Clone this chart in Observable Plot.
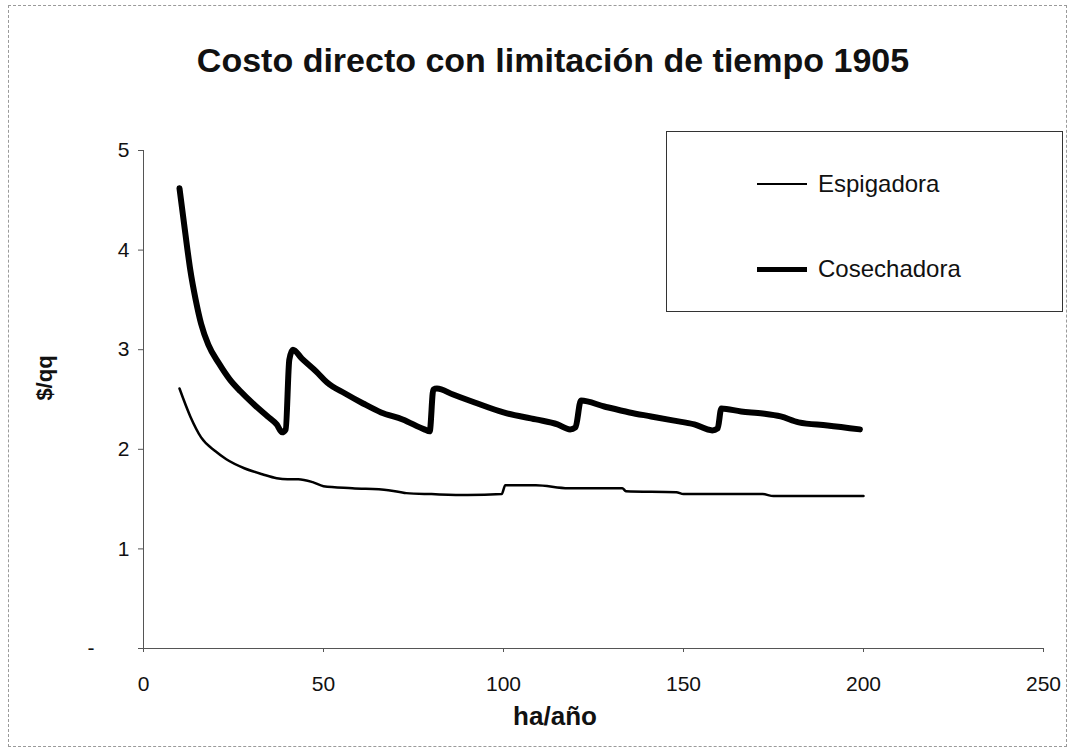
<!DOCTYPE html>
<html>
<head>
<meta charset="utf-8">
<script src="https://cdn.jsdelivr.net/npm/d3@7"></script>
<script src="https://cdn.jsdelivr.net/npm/@observablehq/plot@0.6"></script>
<style>
  html, body { margin: 0; padding: 0; background: #fff; }
  #wrap { position: relative; width: 1073px; height: 753px; font-family: "Liberation Sans", Arial, sans-serif; color: #111; }
  #border { position: absolute; left: 8px; top: 5px; width: 1059px; height: 742px; border: 1px dashed #9a9a9a; box-sizing: border-box; }
  #title { position: absolute; left: 553px; top: 60px; transform: translate(-50%, -50%); font-weight: bold; font-size: 34px; white-space: nowrap; }
  #ylab { position: absolute; left: 45px; top: 378px; transform: translate(-50%, -50%) rotate(-90deg); font-weight: bold; font-size: 22px; white-space: nowrap; }
  #xlab { position: absolute; left: 555px; top: 716px; transform: translate(-50%, -50%); font-weight: bold; font-size: 26px; white-space: nowrap; }
  #legend { position: absolute; left: 666px; top: 131px; width: 397px; height: 181px; border: 1px solid #333; box-sizing: border-box; background: #fff; }
  .lg { position: absolute; left: 90px; display: flex; align-items: center; font-size: 24px; transform: translateY(-50%); }
  .lg span.sw { display: inline-block; width: 50px; background: #000; margin-right: 11px; }
  svg { position: absolute; left: 0; top: 0; }
</style>
</head>
<body>
<div id="wrap">
  <div id="chart"></div>
  <div id="border"></div>
  <div id="title">Costo directo con limitación de tiempo 1905</div>
  <div id="ylab">$/qq</div>
  <div id="xlab">ha/año</div>
  <div id="legend"></div>
</div>
<script>
const seriesNames = ["Espigadora", "Cosechadora"];
const yTicks = [0, 1, 2, 3, 4, 5];
const xTicks = [0, 50, 100, 150, 200, 250];

const espigadoraX = [10, 13, 16, 20, 23, 28, 33, 37, 40, 43, 47, 50, 58, 68, 73, 80, 90, 99.5, 100.5, 105, 109, 118, 125, 133, 134, 148, 150, 160, 172, 175, 185, 200];
const espigadoraY = [2.61, 2.33, 2.12, 1.98, 1.90, 1.81, 1.75, 1.71, 1.70, 1.70, 1.67, 1.63, 1.61, 1.59, 1.56, 1.55, 1.54, 1.55, 1.64, 1.64, 1.64, 1.61, 1.61, 1.61, 1.58, 1.57, 1.55, 1.55, 1.55, 1.53, 1.53, 1.53];

const cosechadoraX = [10, 11.5, 13, 14.5, 16, 18, 21, 24, 27, 31, 34.5, 37, 38.5, 39.5, 40.5, 41.5, 44, 48, 51, 56, 61, 66, 72, 78, 79.5, 80.5, 81.5, 86, 92, 100, 109, 115, 118.5, 120, 121.5, 128, 135, 141, 147, 153, 158, 159.5, 160.5, 166, 172, 177, 182, 190, 199];
const cosechadoraY = [4.62, 4.2, 3.80, 3.5, 3.26, 3.05, 2.86, 2.70, 2.58, 2.44, 2.33, 2.25, 2.17, 2.20, 2.90, 3.00, 2.91, 2.78, 2.67, 2.56, 2.46, 2.37, 2.30, 2.20, 2.18, 2.60, 2.61, 2.55, 2.47, 2.37, 2.30, 2.25, 2.20, 2.22, 2.49, 2.43, 2.37, 2.33, 2.29, 2.25, 2.19, 2.21, 2.41, 2.38, 2.36, 2.33, 2.27, 2.24, 2.20];

const widths = {Espigadora: 2.5, Cosechadora: 6};

const data = [
  ...espigadoraX.map((x, i) => ({x, y: espigadoraY[i], s: seriesNames[0]})),
  ...cosechadoraX.map((x, i) => ({x, y: cosechadoraY[i], s: seriesNames[1]}))
];

const plot = Plot.plot({
  width: 1073,
  height: 753,
  marginLeft: 143,
  marginRight: 30,
  marginTop: 150,
  marginBottom: 105,
  style: {fontFamily: '"Liberation Sans", Arial, sans-serif', fontSize: "21px", color: "#111", background: "transparent"},
  x: {domain: [0, 250], ticks: xTicks},
  y: {domain: [0, 5], ticks: yTicks},
  marks: [
    Plot.ruleX([0], {stroke: "#555", strokeWidth: 1}),
    Plot.ruleY([0], {stroke: "#555", strokeWidth: 1}),
    Plot.axisX({ticks: xTicks, tickSize: 4, tickPadding: 24, label: null, tickFormat: d => String(d), stroke: "#555"}),
    Plot.axisY({ticks: yTicks, tickSize: 5, tickPadding: 9, label: null, tickFormat: d => d === 0 ? "-\u2007\u2007\u2007" : String(d), stroke: "#555"}),
    Plot.line(data.filter(d => d.s === "Espigadora"), {x: "x", y: "y", stroke: "#000", strokeWidth: widths.Espigadora, curve: "monotone-x", strokeLinejoin: "round", strokeLinecap: "round"}),
    Plot.line(data.filter(d => d.s === "Cosechadora"), {x: "x", y: "y", stroke: "#000", strokeWidth: widths.Cosechadora, curve: "monotone-x", strokeLinejoin: "round", strokeLinecap: "round"})
  ]
});
document.getElementById("chart").appendChild(plot);

const legend = document.getElementById("legend");
seriesNames.forEach((name, i) => {
  const row = document.createElement("div");
  row.className = "lg";
  row.style.top = (i === 0 ? 52 : 137) + "px";
  const sw = document.createElement("span");
  sw.className = "sw";
  sw.style.height = (i === 0 ? 2.5 : 5) + "px";
  row.appendChild(sw);
  const t = document.createElement("span");
  t.textContent = name;
  row.appendChild(t);
  legend.appendChild(row);
});
</script>
</body>
</html>
